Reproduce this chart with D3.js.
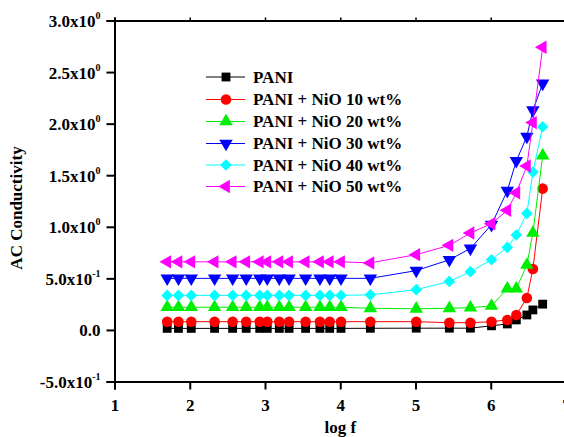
<!DOCTYPE html>
<html><head><meta charset="utf-8">
<script src="https://cdn.jsdelivr.net/npm/d3@7"></script>
<style>
html,body{margin:0;padding:0;background:#fff;}
svg{display:block;}
text{font-family:"Liberation Serif","Times New Roman",serif;font-weight:bold;fill:#000;}
</style></head>
<body>
<svg id="chart" width="564" height="437"></svg>
<script>
// ---- data ----
const logF = [1.70, 1.85, 2.02, 2.33, 2.57, 2.75, 2.93, 3.03, 3.19, 3.32, 3.54, 3.73, 3.86, 4.01, 4.40, 5.01, 5.45, 5.73, 6.01, 6.22, 6.34, 6.48, 6.56, 6.69];
const pani   = [0.015,0.015,0.015,0.015,0.015,0.015,0.015,0.015,0.015,0.015,0.015,0.015,0.015,0.015,0.016,0.017,0.017,0.017,0.04,0.058,0.097,0.145,0.194,0.25];
const nio10  = [0.08,0.08,0.08,0.08,0.08,0.08,0.08,0.08,0.08,0.08,0.08,0.08,0.08,0.08,0.08,0.08,0.07,0.07,0.08,0.097,0.145,0.31,0.59,1.37];
const nio20  = [0.22,0.22,0.22,0.22,0.22,0.22,0.22,0.22,0.22,0.22,0.22,0.22,0.22,0.22,0.21,0.205,0.21,0.216,0.233,0.40,0.40,0.63,0.94,1.69];
const nio30  = [0.50,0.50,0.50,0.50,0.50,0.50,0.50,0.50,0.50,0.50,0.50,0.50,0.50,0.50,0.50,0.575,0.68,0.79,1.02,1.35,1.64,1.875,2.13,2.39];
const nio40  = [0.335,0.335,0.335,0.335,0.335,0.335,0.335,0.335,0.335,0.335,0.335,0.335,0.335,0.335,0.34,0.39,0.47,0.565,0.68,0.80,0.92,1.13,1.53,1.97];
const nio50  = [0.66,0.66,0.66,0.66,0.66,0.66,0.66,0.66,0.66,0.66,0.66,0.66,0.66,0.66,0.65,0.73,0.82,0.94,1.03,1.16,1.33,1.59,2.01,2.74];
const seriesNames = ["PANI","PANI + NiO 10 wt%","PANI + NiO 20 wt%","PANI + NiO 30 wt%","PANI + NiO 40 wt%","PANI + NiO 50 wt%"];
const xTicks = [1,2,3,4,5,6,7];
const yTicks = [-0.5,0,0.5,1.0,1.5,2.0,2.5,3.0];
const yTickLabels = [["-5.0x10","-1"],["0.0",""],["5.0x10","-1"],["1.0x10","0"],["1.5x10","0"],["2.0x10","0"],["2.5x10","0"],["3.0x10","0"]];

const seriesValues = [pani,nio10,nio20,nio30,nio40,nio50];
const colors = ["#000000","#ff0000","#00ee00","#0000ff","#00ffff","#ff00ff"];
// marker: [symbol type, rotation, size]
const markers = [
  [d3.symbolSquare,0,78],
  [d3.symbolCircle,0,88],
  [d3.symbolTriangle,0,78],
  [d3.symbolTriangle,180,78],
  [d3.symbolSquare,45,68],
  [d3.symbolTriangle,-90,78]
];

const FS = 17;
const svg = d3.select("#chart");
const x = d3.scaleLinear().domain([1,7]).range([114.5,566]);
const y = d3.scaleLinear().domain([-0.5,3.0]).range([381.5,20.5]);

// axes
const gx = svg.append("g").attr("transform",`translate(0,${y(-0.5)})`)
  .call(d3.axisBottom(x).tickValues(xTicks).tickSize(8).tickFormat(d3.format("d")));
gx.select(".domain").attr("stroke-width",2);
gx.selectAll(".tick line").attr("stroke-width",2);
gx.selectAll(".tick text").attr("font-size",FS).attr("dy","1.1em").attr("font-family",null);

const gTop = svg.append("g").attr("transform",`translate(0,${y(3.0)})`)
  .call(d3.axisTop(x).tickValues(xTicks).tickSize(3).tickFormat(""));
gTop.select(".domain").attr("stroke-width",2);
gTop.selectAll(".tick line").attr("stroke-width",1.5);

const gy = svg.append("g").attr("transform",`translate(${x(1)},0)`)
  .call(d3.axisLeft(y).tickValues(yTicks).tickSize(8).tickFormat(""));
gy.select(".domain").attr("stroke-width",2);
gy.selectAll(".tick line").attr("stroke-width",2);
gy.selectAll(".tick").each(function(d){
  const lab = yTickLabels[yTicks.indexOf(d)];
  const t = d3.select(this).append("text")
    .attr("x",-14).attr("y",0).attr("dy","0.35em")
    .attr("text-anchor","end").attr("font-size",FS);
  t.append("tspan").text(lab[0]);
  if(lab[1]){
    t.append("tspan").attr("dy",-8).attr("font-size",10).text(lab[1]);
  }
});

// axis titles
svg.append("text").attr("x",x(4)).attr("y",433).attr("text-anchor","middle")
  .attr("font-size",FS).text("log f");
svg.append("text").attr("transform",`translate(22,${208}) rotate(-90)`)
  .attr("text-anchor","middle").attr("font-size",FS).text("AC Conductivity");

// series
const line = d3.line().x(d=>x(d[0])).y(d=>y(d[1]));
seriesValues.forEach((vals,si)=>{
  const pts = logF.map((f,i)=>[f,vals[i]]);
  const g = svg.append("g");
  g.append("path").datum(pts).attr("d",line).attr("fill","none")
    .attr("stroke",colors[si]).attr("stroke-width",1);
  const sym = d3.symbol().type(markers[si][0]).size(markers[si][2]);
  g.selectAll("path.m").data(pts).enter().append("path").attr("class","m")
    .attr("d",sym)
    .attr("transform",d=>`translate(${x(d[0])},${y(d[1])}) rotate(${markers[si][1]})`)
    .attr("fill",colors[si]);
});

// legend
const legY = [77,99.5,121.5,143.5,165,186.5];
seriesNames.forEach((name,si)=>{
  const g = svg.append("g").attr("transform",`translate(0,${legY[si]})`);
  g.append("line").attr("x1",206).attr("x2",245).attr("y1",0).attr("y2",0)
    .attr("stroke",colors[si]).attr("stroke-width",1);
  const sym = d3.symbol().type(markers[si][0]).size(markers[si][2]);
  g.append("path").attr("d",sym).attr("transform",`translate(226,0) rotate(${markers[si][1]})`)
    .attr("fill",colors[si]);
  g.append("text").attr("x",253).attr("y",0).attr("dy","0.35em").attr("font-size",FS).text(name);
});
</script>
</body></html>
